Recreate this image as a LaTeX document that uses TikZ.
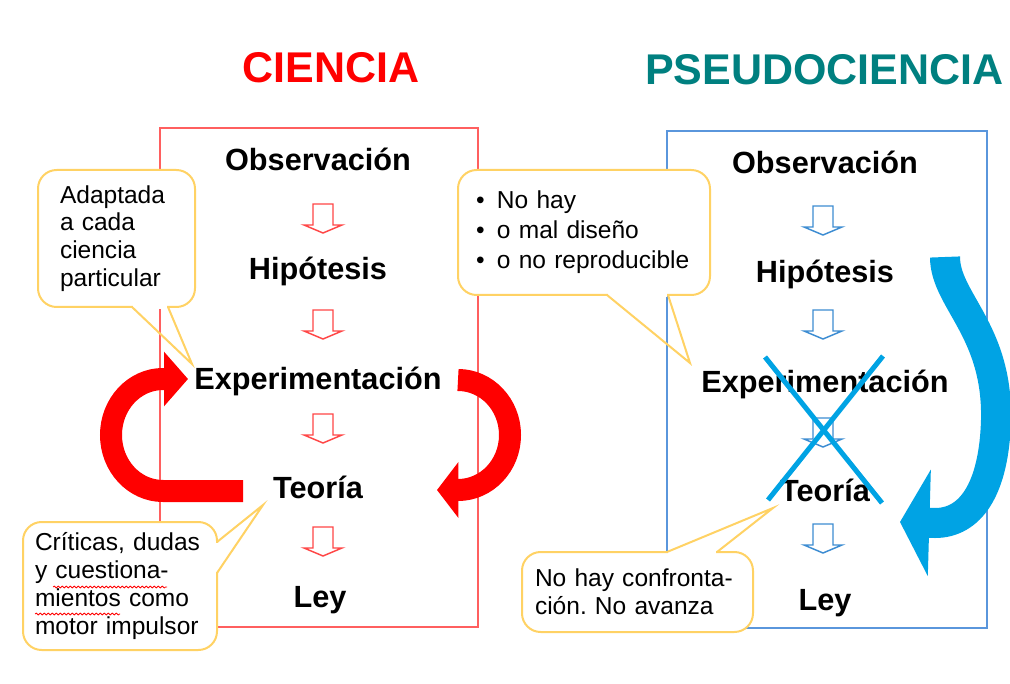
\documentclass[tikz,border=0pt]{standalone}
\usepackage{fontspec}
\setmainfont{Liberation Sans}
\usetikzlibrary{arrows.meta,decorations.pathmorphing}
\definecolor{cred}{RGB}{255,0,0}
\definecolor{cteal}{RGB}{0,128,128}
\definecolor{rline}{RGB}{255,95,95}
\definecolor{sred}{RGB}{255,70,70}
\definecolor{bline}{RGB}{90,150,220}
\definecolor{sblue}{RGB}{60,140,210}
\definecolor{cblue}{RGB}{0,163,228}
\definecolor{cyel}{RGB}{255,210,100}
\frenchspacing
\begin{document}
\begin{tikzpicture}[x=0.75pt,y=-0.75pt]
\tikzstyle{ttl}= [font=\fontsize{32.25}{38}\selectfont\bfseries,anchor=base,inner sep=0pt]
\tikzstyle{lbl}= [font=\fontsize{23}{27}\selectfont\bfseries,anchor=base,inner sep=0pt]
\tikzstyle{bubble}= [rectangle,draw=cyel,line width=1.5pt,fill=white,rounded corners=14pt,align=left,inner ysep=3pt,font=\fontsize{18.4}{20.8}\selectfont]
\tikzstyle{tail}= [draw=cyel,line width=1.5pt]
\tikzstyle{gap}= [draw=white,line width=2.4pt,shorten <=1pt,shorten >=1pt]
\tikzstyle{smallred}= [draw=sred,line width=1.1pt,fill=white]
\tikzstyle{smallblue}= [draw=sblue,line width=1.1pt,fill=white]
\tikzstyle{bigred}= [draw=cred,fill=none,line width=16.5pt]
\tikzstyle{bigblue}= [draw=cblue,fill=none,line width=22.5pt]
\tikzstyle{wavy}= [draw=red,line width=0.6pt,decorate,decoration={snake,amplitude=0.7pt,segment length=3pt}]

\useasboundingbox (0,0) rectangle (1010,684);
\fill[white] (0,0) rectangle (1010,684);

% frames
\draw[rline,line width=1.5pt] (160,128) rectangle (478,627);
\draw[bline,line width=1.5pt] (667,131) rectangle (987,628);

\path
	(331,83) node[ttl,text=cred] (tcien) {CIENCIA}
	(645,85) node[ttl,anchor=base west,text=cteal] (tpseudo) {PSEUDOCIENCIA}
;

% ciencia
\path
	(318,171) node[lbl] (obsL) {Observación}
	(318,280) node[lbl] (hipL) {Hipótesis}
	(318,389) node[lbl] (expL) {Experimentación}
	(318,498) node[lbl] (teoL) {Teoría}
	(320,607) node[lbl] (leyL) {Ley}
;
\foreach \y in {204,310,414,527}
	\draw[smallred] (313,\y) -- (333,\y) -- (333,\y+21) -- (342,\y+21) -- (323,\y+29)
		-- (304,\y+21) -- (313,\y+21) -- cycle;

% pseudociencia
\path
	(825,174) node[lbl] (obsR) {Observación}
	(825,283) node[lbl] (hipR) {Hipótesis}
	(825,392) node[lbl] (expR) {Experimentación}
	(825,501) node[lbl] (teoR) {Teoría}
	(825,610) node[lbl] (leyR) {Ley}
;
\foreach \y in {206,310,418,524}
	\draw[smallblue] (813,\y) -- (833,\y) -- (833,\y+21) -- (842,\y+21) -- (823,\y+29)
		-- (804,\y+21) -- (813,\y+21) -- cycle;

% big arrows
\coordinate (la0) at (243,491);
\coordinate (la1) at (188,379);
\draw[bigred,-{Triangle[length=18pt,width=40pt]}] (la0) -- (163,491)
	arc[start angle=90,end angle=270,x radius=52,y radius=56] -- (la1);
\coordinate (ra0) at (458,380);
\coordinate (ra1) at (437,490);
\draw[bigred,-{Triangle[length=16pt,width=41pt]}] (ra0)
	arc[start angle=-90,end angle=90,x radius=52,y radius=55] -- (ra1);
\coordinate (ba0) at (945,257);
\coordinate (ba1) at (900,522);
\draw[bigblue,-{Triangle[length=22pt,width=79pt]}] (ba0) .. controls (945,300) and (998,330) .. (996,420)
	.. controls (994,490) and (970,523) .. (935,523) -- (ba1);

% cross
\draw[cblue,line width=3.75pt] (765,357) -- (882,503);
\draw[cblue,line width=3.75pt] (883,356) -- (768,500);

% callouts
\node[bubble,minimum width=117.75pt,minimum height=102.75pt,text width=84.75pt,inner xsep=16.5pt]
	(adapt) at (116.5,238.5) {Adaptada\\a cada\\ciencia\\particular};
\node[bubble,minimum width=189pt,minimum height=93.75pt,text width=162pt,inner xsep=13.5pt,
	font=\fontsize{18.4}{22.5}\selectfont]
	(nohay) at (584,232.5) {\makebox[15.75pt][l]{\textbullet}No hay\\
	\makebox[15.75pt][l]{\textbullet}o mal diseño\\
	\makebox[15.75pt][l]{\textbullet}o no reproducible};
\node[bubble,minimum width=145.5pt,minimum height=96pt,text width=127.5pt,inner xsep=9pt]
	(criticas) at (120,586) {Críticas, dudas\\y cuestiona-\\mientos como\\motor impulsor};
\node[bubble,minimum width=173.25pt,minimum height=60pt,text width=153.75pt,inner xsep=9.75pt]
	(confr) at (637.5,592) {No hay confronta-\\ción. No avanza};

\draw[wavy] (53,587) -- (167,587);
\draw[wavy] (35,614) -- (120,614);

% tails
\coordinate (t1a) at (132,307);
\coordinate (t1b) at (168,307);
\coordinate (t1) at (192,364);
\draw[gap] (t1a) -- (t1b);
\draw[tail] (t1a) -- (t1) -- (t1b);
\coordinate (t2a) at (607,295);
\coordinate (t2b) at (668,295);
\coordinate (t2) at (690,363);
\draw[gap] (t2a) -- (t2b);
\draw[tail] (t2a) -- (t2) -- (t2b);
\coordinate (t3a) at (217,542);
\coordinate (t3b) at (217,573);
\coordinate (t3) at (263,505);
\draw[gap] (t3a) -- (t3b);
\draw[tail] (t3a) -- (t3) -- (t3b);
\coordinate (t4a) at (667,552);
\coordinate (t4b) at (717,552);
\coordinate (t4) at (773,508);
\draw[gap] (t4a) -- (t4b);
\draw[tail] (t4a) -- (t4) -- (t4b);
\end{tikzpicture}
\end{document}
